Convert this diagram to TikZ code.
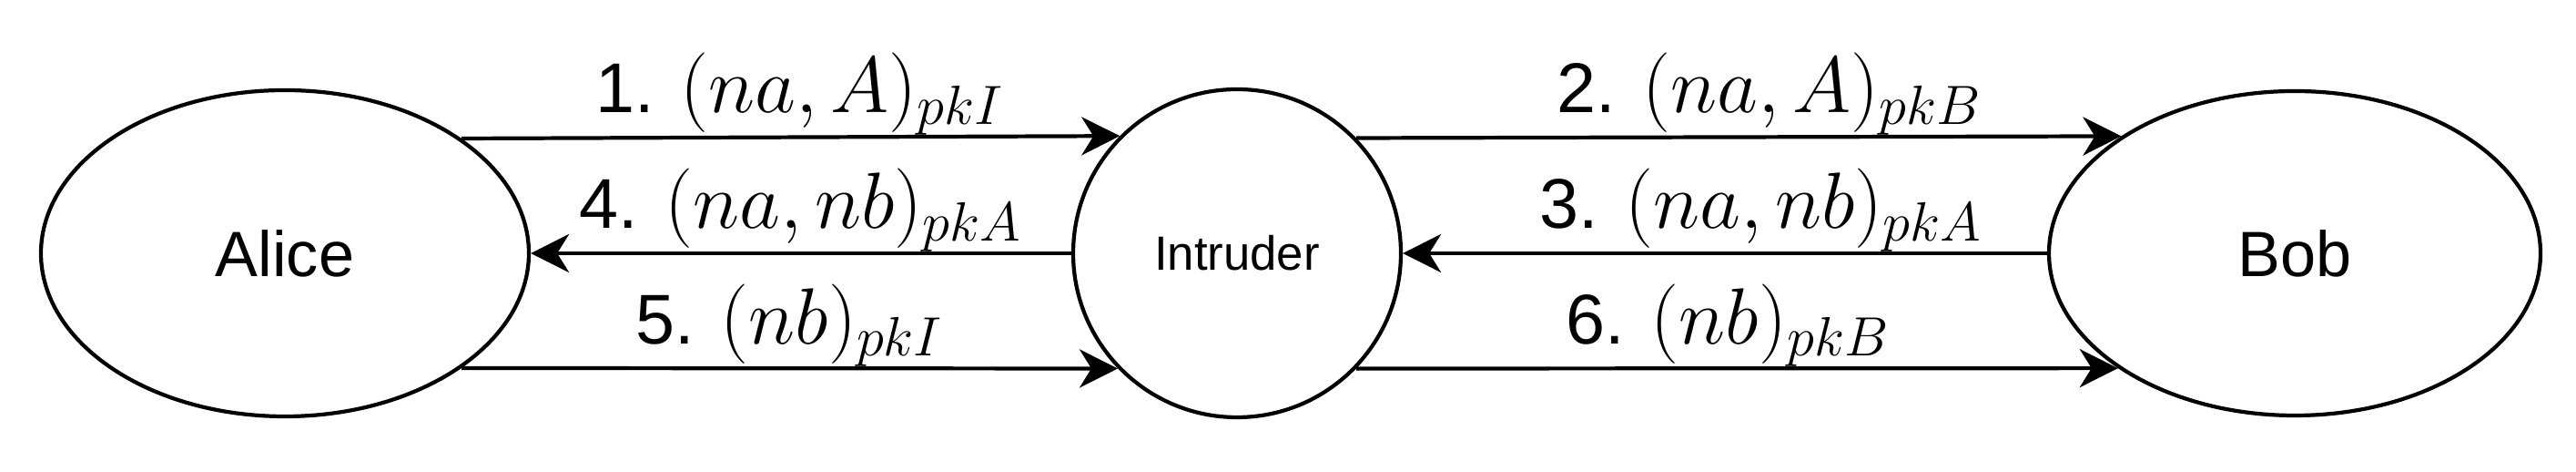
\documentclass[tikz,border=0pt]{standalone}
\usepackage{fontspec}
\setmainfont{Liberation Sans}
\usetikzlibrary{shapes.geometric,arrows.meta}

\newcommand{\pkmsg}[1]{{\fontsize{26}{30}\selectfont$#1$}}

\begin{document}
\begin{tikzpicture}[
		party/.style={draw, ellipse, line width=1.2pt, inner sep=0pt, font=\fontsize{20}{24}\selectfont},
		msg/.style={-{Stealth[length=4.2mm, width=4.2mm, inset=1.3mm]}, line width=1.2pt},
		msglabel/.style={midway, anchor=base, yshift=2.7mm, font=\fontsize{22}{26}\selectfont}]
		\useasboundingbox (0,0) rectangle (28.3,5.18);

		% the three parties
		\node [party, minimum width=5.36cm, minimum height=3.58cm] (alice) at (3.13,2.40) {Alice};
		\node [party, circle, minimum size=3.6cm, font=\fontsize{15}{18}\selectfont] (intruder) at (13.59,2.40) {Intruder};
		\node [party, minimum width=5.40cm, minimum height=3.56cm] (bob) at (25.21,2.40) {Bob};

		% messages, in protocol order
		\draw [msg] (alice.33.5) -- node [msglabel, xshift=1mm] {1. \pkmsg{(na, A)_{pkI}}} (intruder.135.6);
		\draw [msg] (intruder.44.4) -- node [msglabel, xshift=3.4mm] {2. \pkmsg{(na, A)_{pkB}}} (bob.146.5);
		\draw [msg] (bob.west) -- node [msglabel, xshift=4mm] {3. \pkmsg{(na, nb)_{pkA}}} (intruder.east);
		\draw [msg] (intruder.west) -- node [msglabel] {4. \pkmsg{(na, nb)_{pkA}}} (alice.east);
		\draw [msg] (alice.-33.5) -- node [msglabel] {5. \pkmsg{(nb)_{pkI}}} (intruder.224.4);
		\draw [msg] (intruder.-44.4) -- node [msglabel, xshift=-1mm] {6. \pkmsg{(nb)_{pkB}}} (bob.213.5);
	\end{tikzpicture}
\end{document}
